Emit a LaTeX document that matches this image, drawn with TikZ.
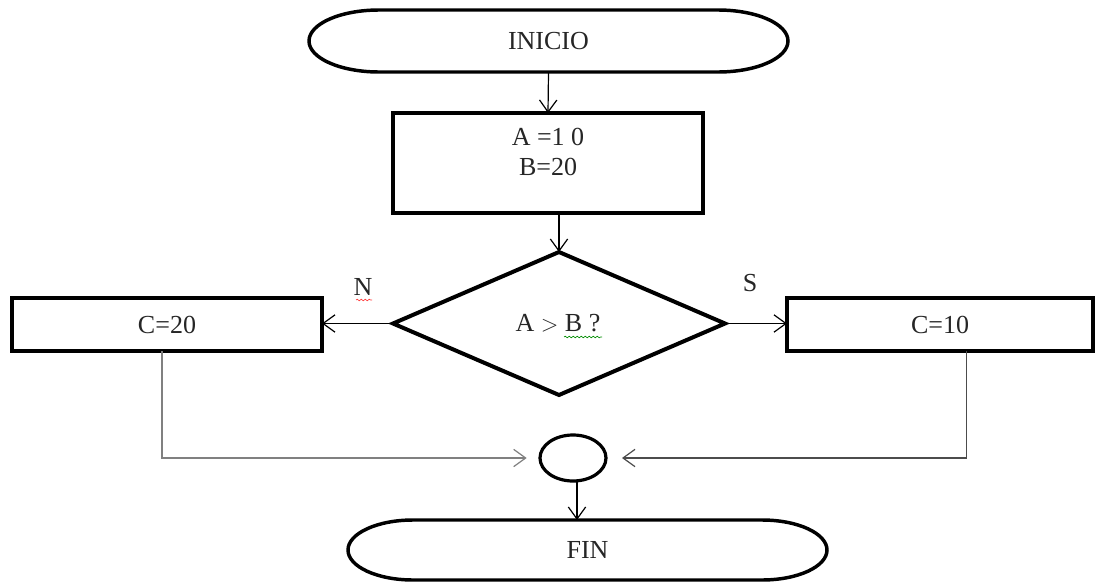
\documentclass[tikz,border=0pt]{standalone}
\usepackage{fontspec}
\setmainfont{Liberation Serif}
\usetikzlibrary{arrows.meta,shapes.geometric,decorations.pathmorphing}
\begin{document}
\begin{tikzpicture}[x=0.75pt,y=-0.75pt,
  every node/.style={font=\fontsize{19.5}{23}\selectfont, inner sep=0pt, outer sep=0pt, text=black!85},
  procbox/.style={draw, line width=3pt, rectangle, minimum width=#1},
  term/.style={draw, line width=2.6pt},
  arr/.style={line width=0.9pt, -{Straight Barb[length=9pt,width=13pt,line width=0.9pt]}},
  wavy/.style={decorate, decoration={snake, amplitude=0.6pt, segment length=3pt}, line width=0.5pt}
]
\fill[white] (0,0) rectangle (1097,582);
\useasboundingbox (0,0) rectangle (1097,582);

% INICIO terminal
\node[minimum width=359.25pt, minimum height=46.5pt] (ini) at (548.5,41) {INICIO};
\draw[term] ([xshift=52.5pt]ini.north west) -- ([xshift=-52.5pt]ini.north east)
  arc[start angle=90,end angle=-90,x radius=52.5pt,y radius=23.25pt]
  -- ([xshift=52.5pt]ini.south west)
  arc[start angle=270,end angle=90,x radius=52.5pt,y radius=23.25pt] -- cycle;

% assignment box
\node[procbox=232.5pt, minimum height=75pt] (ab) at (548,163) {};
\node[align=center] (abtxt) at (548,152) {A =1 0\\B=20};

% decision
\node[draw, diamond, line width=3pt, minimum width=249pt, minimum height=107.25pt] (dia) at (559,323.5) {};
\node (diatxt) at (558,323) {A {\fontsize{16}{16}\selectfont$>$} B ?};

% side boxes
\node[procbox=232.5pt, minimum height=39.75pt] (c20) at (167,324.5) {C=20};
\node[procbox=229.5pt, minimum height=39.75pt] (c10) at (940,324.5) {C=10};

% merge circle
\node[draw, ellipse, line width=2.4pt, minimum width=49.5pt, minimum height=34.5pt] (mrg) at (573,458) {};

% FIN terminal
\node[minimum width=359.25pt, minimum height=45pt] (fin) at (587.5,550) {FIN};
\draw[term] ([xshift=48.75pt]fin.north west) -- ([xshift=-48.75pt]fin.north east)
  arc[start angle=90,end angle=-90,x radius=48.75pt,y radius=22.5pt]
  -- ([xshift=48.75pt]fin.south west)
  arc[start angle=270,end angle=90,x radius=48.75pt,y radius=22.5pt] -- cycle;

% labels
\node (lN) at (363,287) {N};
\node (lS) at (750,283) {S};
\draw[wavy, red!75] (356,300) -- (372,300);
\draw[wavy, green!55!black] (564,337) -- (602,337);

% connectors
\draw[arr] (ini.south) -- (ab.north);
\draw[arr] (ab.south -| dia.north) -- (dia.north);
\draw[arr] (dia.west) -- (c20.east |- dia.west);
\draw[arr] (dia.east) -- (c10.west |- dia.east);
\draw[arr, black!50, line width=1.5pt, shorten >=10pt] ([xshift=-3.75pt]c20.south) |- (mrg.west);
\draw[arr, black!70, line width=1.1pt, shorten >=12pt] ([xshift=20pt]c10.south) |- (mrg.east);
\draw[arr] ([xshift=3pt]mrg.south) -- ([xshift=3pt]mrg.south |- fin.north);
\end{tikzpicture}
\end{document}
